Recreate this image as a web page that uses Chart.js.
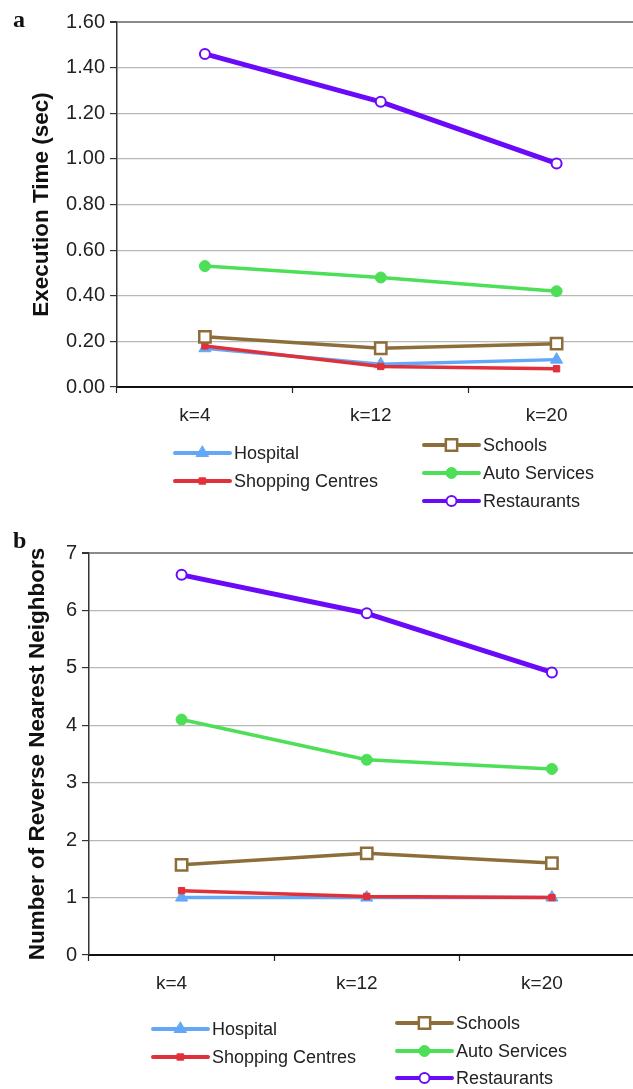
<!DOCTYPE html>
<html>
<head>
<meta charset="utf-8">
<script src="https://cdn.jsdelivr.net/npm/chart.js@4.4.1/dist/chart.umd.min.js"></script>
<style>
  html, body { margin: 0; padding: 0; background: #fff; overflow: hidden; }
  #page { position: relative; width: 700px; height: 1089px; overflow: hidden; }
  .wrap { position: absolute; left: 0; width: 700px; }
  canvas { display: block; }
  .panel { position: absolute; left: 13px; font: bold 24px "Liberation Serif", serif; color: #111; }
</style>
</head>
<body>
<div id="page">
  <div class="wrap" style="top:0; height:525px"><canvas id="chartA" width="655" height="525"></canvas></div>
  <div class="wrap" style="top:530px; height:559px"><canvas id="chartB" width="655" height="559"></canvas></div>
  <div class="panel" style="top:6px">a</div>
  <div class="panel" style="top:527px">b</div>
</div>
<script>
// categories and series
const categories = ["k=4", "k=12", "k=20"];
const seriesNames = ["Hospital", "Shopping Centres", "Schools", "Auto Services", "Restaurants"];

// panel a: execution time (sec)
const timeHospital = [0.17, 0.10, 0.12];
const timeShopping = [0.18, 0.09, 0.08];
const timeSchools = [0.22, 0.17, 0.19];
const timeAuto = [0.53, 0.48, 0.42];
const timeRestaurants = [1.46, 1.25, 0.98];

// panel b: number of reverse nearest neighbors
const rnnHospital = [1.0, 1.0, 1.0];
const rnnShopping = [1.12, 1.02, 1.0];
const rnnSchools = [1.57, 1.77, 1.60];
const rnnAuto = [4.10, 3.40, 3.24];
const rnnRestaurants = [6.62, 5.95, 4.92];

const FONT = "'Liberation Sans', Arial, sans-serif";

const seriesStyle = [
    { color: "#62a8f7", pointStyle: "triangle", pointRadius: 7, fill: "#62a8f7", width: 3.5, borderW: 1, order: 5 },
    { color: "#e0313a", pointStyle: "rect", pointRadius: 4.5, fill: "#e0313a", width: 3.5, borderW: 1, order: 4 },
    { color: "#8d6e3b", pointStyle: "rect", pointRadius: 8, fill: "#ffffff", width: 3.5, borderW: 2.5, order: 3 },
    { color: "#4ddf57", pointStyle: "circle", pointRadius: 5.5, fill: "#4ddf57", width: 3.5, borderW: 1, order: 2 },
    { color: "#6a0af8", pointStyle: "circle", pointRadius: 5, fill: "#ffffff", width: 5, borderW: 2, order: 1 }
];

function makeDatasets(values) {
    return values.map((v, i) => {
        const s = seriesStyle[i];
        return {
            label: seriesNames[i],
            data: v,
            borderColor: s.color,
            backgroundColor: s.color,
            borderWidth: s.width,
            borderJoinStyle: "round",
            borderCapStyle: "round",
            pointStyle: s.pointStyle,
            pointRadius: s.pointRadius,
            pointBackgroundColor: s.fill,
            pointBorderColor: s.color,
            pointBorderWidth: s.borderW,
            order: s.order,
            tension: 0
        };
    });
}

function drawMarker(ctx, ds, x, y) {
    const r = ds.pointRadius;
    ctx.save();
    ctx.fillStyle = ds.pointBackgroundColor;
    ctx.strokeStyle = ds.pointBorderColor;
    ctx.lineWidth = ds.pointBorderWidth;
    ctx.beginPath();
    if (ds.pointStyle === "circle") {
        ctx.arc(x, y, r, 0, Math.PI * 2);
    } else if (ds.pointStyle === "rect") {
        const s = r * Math.SQRT1_2;
        ctx.rect(x - s, y - s, 2 * s, 2 * s);
    } else if (ds.pointStyle === "triangle") {
        ctx.moveTo(x, y - r);
        ctx.lineTo(x + r * Math.cos(Math.PI / 6), y + r / 2);
        ctx.lineTo(x - r * Math.cos(Math.PI / 6), y + r / 2);
        ctx.closePath();
    }
    ctx.fill();
    ctx.stroke();
    ctx.restore();
}

// legend drawn in the space under the x axis, two columns like the original
const panelLegend = {
    id: "panelLegend",
    afterDraw(chart, args, opts) {
        const ctx = chart.ctx;
        ctx.save();
        ctx.font = "18px " + FONT;
        ctx.textBaseline = "middle";
        opts.entries.forEach(e => {
            const ds = chart.data.datasets[e.index];
            ctx.strokeStyle = ds.borderColor;
            ctx.lineWidth = 4;
            ctx.lineCap = "round";
            ctx.beginPath();
            ctx.moveTo(e.x1, e.y);
            ctx.lineTo(e.x2, e.y);
            ctx.stroke();
            drawMarker(ctx, ds, (e.x1 + e.x2) / 2, e.y);
            ctx.fillStyle = "#222";
            ctx.fillText(ds.label, e.x2 + 4, e.y + 1);
        });
        ctx.restore();
    }
};

function makeChart(id, values, yOpts, layout, legendEntries) {
    const ctx = document.getElementById(id).getContext("2d");
    const chart = new Chart(ctx, {
        type: "line",
        data: { labels: categories, datasets: makeDatasets(values) },
        options: {
            responsive: false,
            maintainAspectRatio: false,
            animation: false,
            layout: { padding: layout.padding },
            plugins: {
                legend: { display: false },
                tooltip: { enabled: false },
                panelLegend: { entries: legendEntries }
            },
            scales: {
                x: {
                    offset: true,
                    afterFit: scale => {
                        scale.height = 40;
                        scale.paddingLeft = 0;
                        scale.paddingRight = 0;
                    },
                    border: { color: "#111", width: 2 },
                    grid: { offset: true, drawOnChartArea: false, drawTicks: true, tickLength: 6, tickColor: "#222", tickWidth: 1.2 },
                    ticks: { color: "#222", font: { family: FONT, size: 19 }, padding: 11, labelOffset: -10 }
                },
                y: {
                    min: 0,
                    max: yOpts.max,
                    afterFit: scale => { scale.width = layout.axisWidth; },
                    border: { color: "#333", width: 1.5 },
                    grid: {
                        color: c => c.tick && c.tick.value === yOpts.max ? "#8a8a8a" : "#b8b8b8",
                        lineWidth: c => c.tick && c.tick.value === yOpts.max ? 2 : 1.2,
                        tickColor: "#333",
                        tickLength: 7
                    },
                    ticks: {
                        stepSize: yOpts.step,
                        color: "#222",
                        font: { family: FONT, size: 20 },
                        padding: 5,
                        callback: v => yOpts.decimals ? Number(v).toFixed(yOpts.decimals) : v
                    },
                    title: {
                        display: true,
                        text: yOpts.title,
                        color: "#111",
                        font: { family: FONT, size: 22.5, weight: "bold" },
                        padding: { top: layout.titleOffset, bottom: 0 }
                    }
                }
            }
        },
        plugins: [panelLegend]
    });

    // the original plot runs past the right edge of the picture; make the
    // plot area end at layout.plotRight whatever space the layout keeps back
    for (let i = 0; i < 3; i++) {
        const lost = layout.plotRight - chart.chartArea.right;
        if (Math.abs(lost) < 0.5) break;
        chart.resize(Math.round(chart.width + lost), chart.height);
    }
    return chart;
}

makeChart("chartA",
    [timeHospital, timeShopping, timeSchools, timeAuto, timeRestaurants],
    { max: 1.6, step: 0.2, decimals: 2, title: "Execution Time (sec)" },
    { padding: { top: 22, bottom: 98, left: 0, right: 0 }, axisWidth: 117, titleOffset: 28, plotRight: 644 },
    [
        { index: 0, x1: 175, x2: 230, y: 453 },
        { index: 1, x1: 175, x2: 230, y: 481 },
        { index: 2, x1: 424, x2: 479, y: 445 },
        { index: 3, x1: 424, x2: 479, y: 473 },
        { index: 4, x1: 424, x2: 479, y: 501 }
    ]
);

makeChart("chartB",
    [rnnHospital, rnnShopping, rnnSchools, rnnAuto, rnnRestaurants],
    { max: 7, step: 1, decimals: 0, title: "Number of Reverse Nearest Neighbors" },
    { padding: { top: 23, bottom: 94, left: 0, right: 0 }, axisWidth: 89, titleOffset: 24, plotRight: 644 },
    [
        { index: 0, x1: 153, x2: 208, y: 499 },
        { index: 1, x1: 153, x2: 208, y: 527 },
        { index: 2, x1: 397, x2: 452, y: 493 },
        { index: 3, x1: 397, x2: 452, y: 521 },
        { index: 4, x1: 397, x2: 452, y: 548 }
    ]
);
</script>
</body>
</html>
